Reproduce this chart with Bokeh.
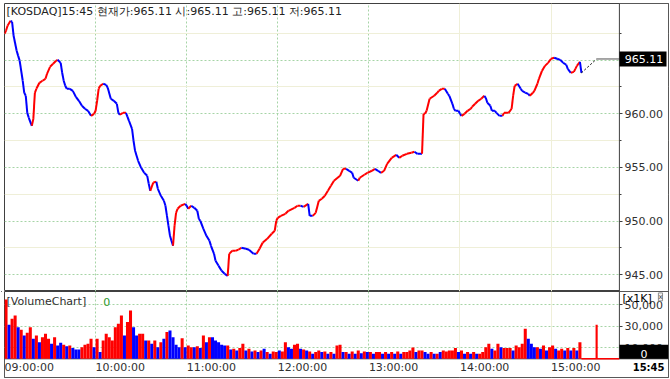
import numpy as np
from bokeh.plotting import figure
from bokeh.layouts import column
from bokeh.models import (Range1d, FixedTicker, NumeralTickFormatter, Label, Grid,
                          ColumnDataSource, BoxAnnotation)
from bokeh.embed import file_html
from bokeh.resources import INLINE

# ---------------- data ----------------
# minutes after 09:00 and KOSDAQ index value
price_min = [0, 1, 2, 4, 5, 6, 8, 9, 10, 12,
             13, 14, 15, 16, 18, 19, 20, 21, 23, 25,
             27, 28, 30, 32, 34, 35, 37, 38, 39, 40,
             41, 43, 45, 47, 49, 51, 53, 55, 57, 59,
             60, 61, 62, 63, 65, 67, 68, 70, 72, 74,
             75, 76, 78, 80, 81, 82, 84, 85, 86, 88,
             90, 92, 94, 95, 96, 98, 100, 101, 103, 105,
             106, 107, 108, 109, 110, 111, 112, 113, 114, 116,
             119, 120, 121, 123, 125, 127, 128, 129, 131, 133,
             135, 136, 138, 139, 141, 143, 145, 147, 148, 150,
             152, 154, 156, 159, 161, 164, 166, 168, 170, 173,
             176, 178, 179, 180, 182, 185, 187, 191, 193, 195,
             197, 200, 201, 203, 205, 207, 209, 211, 213, 215,
             217, 221, 223, 225, 227, 229, 230, 233, 234, 237,
             239, 242, 244, 246, 248, 250, 252, 255, 258, 260,
             262, 265, 268, 270, 272, 275, 276, 277, 278, 280,
             283, 285, 286, 288, 290, 292, 293, 295, 296, 297,
             299, 300, 301, 303, 305, 307, 308, 310, 312, 314,
             316, 317, 318, 320, 321, 323, 324, 326, 328, 329,
             332, 334, 335, 336, 338, 340, 341, 343, 345, 346,
             348, 349, 351, 352, 354, 356, 358, 360, 362, 364,
             366, 368, 370, 371, 373, 375, 376, 377, 379, 380]
price_val = [967.46, 967.74, 968.20, 968.67, 968.57, 967.27, 965.87, 965.40, 964.94, 963.08,
             961.96, 961.68, 960.09, 959.63, 958.88, 959.53, 961.96, 962.33, 962.89, 963.08,
             963.26, 963.73, 964.38, 964.66, 964.94, 965.03, 964.75, 963.82, 963.08, 962.61,
             962.33, 962.33, 962.14, 961.58, 961.21, 960.75, 960.47, 960.28, 959.81, 960.00,
             960.28, 961.21, 962.33, 962.61, 962.80, 962.70, 962.42, 961.40, 961.21, 960.93,
             960.09, 959.91, 960.09, 960.09, 959.72, 959.35, 958.60, 957.48, 956.55, 955.62,
             954.97, 954.50, 954.22, 953.48, 952.82, 953.60, 953.66, 953.01, 952.36, 951.89,
             951.43, 950.49, 949.56, 948.63, 948.16, 947.70, 949.56, 950.77, 951.15, 951.43,
             951.61, 951.43, 951.15, 951.43, 951.24, 950.96, 950.21, 950.03, 949.28, 948.63,
             948.16, 947.70, 946.95, 946.30, 945.83, 945.37, 945.09, 944.90, 946.95, 947.23,
             947.23, 947.33, 947.51, 947.42, 947.33, 946.95, 946.95, 947.42, 947.98, 948.35,
             948.82, 949.10, 950.03, 950.31, 950.49, 950.68, 950.96, 951.24, 951.43, 951.43,
             951.33, 951.61, 950.49, 950.49, 950.77, 951.89, 952.08, 952.36, 952.82, 953.29,
             953.76, 954.22, 954.87, 954.87, 954.69, 954.50, 954.04, 953.76, 954.04, 954.32,
             954.50, 954.69, 954.87, 954.69, 954.50, 954.69, 955.34, 955.90, 956.18, 955.90,
             956.09, 956.27, 956.37, 956.46, 956.27, 956.27, 960.00, 960.00, 960.28, 961.40,
             961.68, 961.96, 962.14, 962.33, 962.33, 961.86, 961.68, 960.93, 960.47, 960.28,
             960.28, 960.00, 959.81, 960.00, 960.28, 960.47, 960.65, 960.93, 961.21, 961.40,
             961.68, 961.49, 961.03, 960.75, 960.28, 960.28, 960.09, 959.81, 959.81, 960.09,
             960.09, 960.47, 961.68, 962.61, 962.80, 962.33, 962.14, 961.96, 961.86, 961.68,
             961.96, 962.14, 962.80, 963.26, 964.00, 964.47, 964.75, 965.13, 965.22, 965.13,
             965.03, 964.75, 964.57, 964.19, 963.82, 963.91, 964.19, 964.47, 964.85, 963.82]
auction_end_min = 390      # 15:30 closing auction
session_end_min = 405      # 15:45
last_price = 965.11
last_volume = 0

# volume in 2-minute slots from 09:00 (units x1K), 1 = up (red), 0 = down (blue)
vol_slot = 2
vol = [55000, 31500, 37000, 40100, 29300, 27000, 21600, 24000, 29300, 18500,
       21600, 15400, 20000, 23100, 18500, 13900, 20000, 12300, 14800, 13000,
       11700, 12300, 9900, 8600, 8600, 10800, 13000, 13900, 18500, 10800,
       18500, 6200, 17000, 23100, 20000, 17000, 29300, 32400, 40100, 21600,
       34000, 44700, 29300, 21600, 23100, 23100, 17000, 17000, 13900, 17000,
       10800, 15400, 18500, 24700, 26200, 20000, 13000, 10800, 19100, 10800,
       12300, 10800, 10800, 11700, 9900, 21600, 15400, 20000, 20000, 17000,
       15400, 13000, 12300, 12300, 8600, 9300, 7700, 9900, 13900, 7700,
       9300, 6800, 7700, 6200, 7700, 9300, 6200, 4600, 6800, 6200,
       7700, 6800, 15400, 10800, 9300, 13000, 13900, 9300, 8600, 7700,
       6800, 4600, 6200, 7700, 6200, 6800, 4600, 6200, 4600, 12300,
       13000, 6200, 6200, 4600, 6800, 4600, 7700, 5200, 6800, 6200,
       6200, 4600, 6200, 6200, 4600, 6200, 4600, 6200, 4600, 6800,
       4600, 6200, 6200, 7700, 10500, 6200, 7700, 7700, 6200, 4600,
       6200, 4600, 4600, 6200, 7700, 6800, 7700, 7700, 9900, 6200,
       7700, 4600, 6200, 4600, 6200, 4600, 4600, 6200, 10800, 13900,
       9300, 7700, 13900, 10800, 9900, 9900, 9900, 7700, 12300, 10800,
       13900, 27800, 18500, 13900, 10800, 10800, 9300, 12300, 7700, 10800,
       12300, 9300, 7700, 9300, 7700, 9900, 7700, 9900, 7700, 15400]
vol_up = [1, 0, 1, 1, 0, 1, 0, 1, 1, 0,
          1, 0, 1, 1, 1, 0, 1, 0, 0, 1,
          0, 1, 0, 0, 0, 1, 1, 1, 1, 0,
          1, 0, 1, 1, 1, 1, 1, 1, 1, 0,
          1, 1, 0, 0, 1, 1, 0, 1, 0, 1,
          0, 1, 0, 1, 0, 0, 0, 0, 1, 0,
          1, 1, 0, 1, 0, 1, 0, 1, 0, 0,
          0, 0, 0, 1, 0, 1, 0, 1, 1, 0,
          1, 0, 1, 0, 1, 0, 1, 0, 1, 1,
          0, 1, 1, 0, 0, 1, 1, 0, 1, 0,
          1, 0, 1, 1, 0, 1, 0, 1, 0, 1,
          1, 0, 1, 0, 1, 0, 1, 0, 1, 0,
          1, 0, 1, 1, 0, 1, 0, 1, 0, 1,
          0, 1, 1, 1, 1, 0, 1, 1, 0, 0,
          1, 0, 1, 0, 1, 1, 1, 1, 1, 0,
          1, 0, 1, 0, 1, 0, 1, 1, 1, 1,
          0, 1, 1, 0, 1, 1, 1, 0, 1, 1,
          1, 1, 0, 0, 0, 1, 0, 1, 0, 1,
          1, 0, 1, 1, 0, 1, 0, 1, 0, 1]
close_auction_vol = 31500   # at 15:30
after_min = [380, 405]       # no trades after 15:20 except the auction
after_vol = [0, 0]

hour_ticks = [0, 60, 120, 180, 240, 300, 360]
hour_labels = ["09:00:00", "10:00:00", "11:00:00", "12:00:00", "13:00:00", "14:00:00", "15:00:00"]
price_ticks = [945, 950, 955, 960, 965]
price_minor = [947.5, 952.5, 957.5, 962.5, 967.5]
vol_ticks = [10000, 30000, 50000]

title_text = "[KOSDAQ]15:45 현재가:%.2f 시:%.2f 고:%.2f 저:%.2f" % (last_price, last_price, last_price, last_price)

# ---------------- style / layout ----------------
RED = "#ff0000"
BLUE = "#0000ff"
GRID = "#a6d4a6"
FAINT = "#efefd8"
FRAME = "#404040"
FONT = "DejaVu Sans"
FS = "11px"
W = 670
H1 = 291
H2 = 88
LB = 4                          # left border
RBORD = 2                       # right border
PLOT_W = 614.9                  # pixel width of the time area (09:00 .. 15:45)
px_per_min = PLOT_W / session_end_min
x_end = (W - LB - RBORD) / px_per_min     # frame also covers the right price panel
PRICE_PX = 10.733               # pixels per index point
VOL_TOP = 62300
VOL_PX = 67.3                   # pixel height of the volume area
V_FRAME = H2 - 2                # volume frame height (axis row included)
vol_bottom = -(V_FRAME - VOL_PX) * VOL_TOP / VOL_PX
LABEL_HALF_PX = 24.7            # half width of a "HH:00:00" label
label_shift = LABEL_HALF_PX / px_per_min
BOX_H_PX = 15                   # height of the black value boxes

x_range = Range1d(0, x_end)


def add_grids(p, yticks, yminor=None):
    p.grid.visible = False
    p.add_layout(Grid(dimension=0, ticker=FixedTicker(ticks=hour_ticks[1:5], minor_ticks=[]),
                      grid_line_color=GRID, grid_line_dash="2 2"))
    p.add_layout(Grid(dimension=0, ticker=FixedTicker(ticks=hour_ticks[5:], minor_ticks=[]),
                      grid_line_color=FAINT))
    g = Grid(dimension=1, ticker=FixedTicker(ticks=yticks, minor_ticks=yminor or []),
             grid_line_color=GRID, grid_line_dash="2 2")
    if yminor:
        g.minor_grid_line_color = FAINT
    p.add_layout(g)


def style_right_axis(ax, ticks, minor, fmt):
    ax.fixed_location = session_end_min
    ax.ticker = FixedTicker(ticks=ticks, minor_ticks=minor)
    ax.formatter = NumeralTickFormatter(format=fmt)
    ax.axis_line_color = None
    ax.major_tick_in = 0
    ax.major_tick_out = 3
    ax.minor_tick_in = 0
    ax.minor_tick_out = 2
    ax.major_tick_line_color = FRAME
    ax.minor_tick_line_color = FRAME
    ax.major_label_standoff = 2
    ax.major_label_text_font = FONT
    ax.major_label_text_font_size = FS
    ax.major_label_text_color = "#303030"


# ---------------- price panel ----------------
p1 = figure(width=W, height=H1, x_range=x_range, y_range=Range1d(943.44, 970.28),
            output_backend="svg", toolbar_location=None,
            x_axis_location=None, y_axis_location="right",
            min_border_left=LB, min_border_right=RBORD, min_border_top=3, min_border_bottom=0)
p1.outline_line_color = FRAME
p1.background_fill_color = "white"
p1.border_fill_color = "white"
add_grids(p1, price_ticks, price_minor)
p1.add_layout(BoxAnnotation(left=session_end_min, fill_color="white", fill_alpha=1,
                            line_color=FRAME, line_alpha=1, level="underlay"))
style_right_axis(p1.yaxis[0], price_ticks, price_minor, "0.00")

x0 = price_min[:-1]
x1 = price_min[1:]
y0 = price_val[:-1]
y1 = price_val[1:]
seg_col = []
last = RED
for a, b in zip(y0, y1):
    if b > a:
        last = RED
    elif b < a:
        last = BLUE
    seg_col.append(last)
p1.segment(x0="x0", y0="y0", x1="x1", y1="y1", line_color="c", line_width=2,
           source=ColumnDataSource(dict(x0=x0, y0=y0, x1=x1, y1=y1, c=seg_col)))
p1.line([price_min[-1], auction_end_min], [price_val[-1], last_price],
        line_color="black", line_dash="2 2", line_width=1)
p1.line([auction_end_min, session_end_min], [last_price, last_price],
        line_color="#505050", line_width=1)

p1.add_layout(Label(x=0, y=969.5, x_offset=2, text=title_text, text_font=FONT,
                    text_font_size=FS, text_color="#222222", text_baseline="middle"))
# current-price box on the right axis
half_box = BOX_H_PX / 2 / PRICE_PX
p1.add_layout(BoxAnnotation(left=session_end_min, right=x_end - 2 / px_per_min,
                            bottom=last_price - half_box, top=last_price + half_box,
                            fill_color="black", fill_alpha=1, line_color=None))
p1.add_layout(Label(x=(session_end_min + x_end) / 2, y=last_price, text="%.2f" % last_price,
                    text_font=FONT, text_font_size=FS, text_color="white",
                    text_baseline="middle", text_align="center"))

# ---------------- volume panel ----------------
p2 = figure(width=W, height=H2, x_range=x_range, y_range=Range1d(vol_bottom, VOL_TOP),
            output_backend="svg", toolbar_location=None,
            x_axis_location="below", y_axis_location="right",
            min_border_left=LB, min_border_right=RBORD, min_border_top=0, min_border_bottom=2)
p2.outline_line_color = FRAME
p2.background_fill_color = "white"
p2.border_fill_color = "white"
add_grids(p2, vol_ticks)
p2.add_layout(BoxAnnotation(left=session_end_min, bottom=0, fill_color="white", fill_alpha=1,
                            line_color=FRAME, line_alpha=1, level="underlay"))
p2.add_layout(BoxAnnotation(top=0, fill_color="white", fill_alpha=1,
                            line_color=FRAME, line_alpha=1, level="underlay"))
style_right_axis(p2.yaxis[0], vol_ticks, [], "0,0")

vx = [vol_slot * k + vol_slot / 2 for k in range(len(vol))]
vc = [RED if u else BLUE for u in vol_up]
p2.vbar(x="x", top="top", width=vol_slot, fill_color="c", line_color=None,
        source=ColumnDataSource(dict(x=vx, top=vol, c=vc)))
p2.vbar(x=[auction_end_min], top=[close_auction_vol], width=1.4, fill_color=RED, line_color=None)
p2.line(after_min, after_vol, line_color=RED, line_width=1.5)

# time axis: labels start at their hour (centred labels shifted by half a label width)
ax = p2.xaxis[0]
ax.fixed_location = 0
label_pos = [t + label_shift for t in hour_ticks]
ax.ticker = FixedTicker(ticks=label_pos, minor_ticks=[])
ax.major_label_overrides = {t: l for t, l in zip(label_pos, hour_labels)}
ax.axis_line_color = None
ax.major_tick_in = 0
ax.major_tick_out = 0
ax.major_tick_line_color = None
ax.major_label_standoff = 2
ax.major_label_text_font = FONT
ax.major_label_text_font_size = FS
ax.major_label_text_color = "#303030"

p2.add_layout(Label(x=0, y=53000, x_offset=2, text="[VolumeChart]", text_font=FONT,
                    text_font_size=FS, text_color="#303030", text_baseline="middle"))
p2.add_layout(Label(x=65, y=53000, text="0", text_font=FONT,
                    text_font_size=FS, text_color="#2e9a2e", text_baseline="middle"))
# current-volume box on the right axis
p2.add_layout(BoxAnnotation(left=session_end_min, right=x_end, bottom=0,
                            top=(BOX_H_PX - 1) * VOL_TOP / VOL_PX,
                            fill_color="black", fill_alpha=1, line_color=None))
p2.add_layout(Label(x=(session_end_min + x_end) / 2, y=0, y_offset=1, text="%d" % last_volume,
                    text_font=FONT, text_font_size=FS, text_color="white",
                    text_baseline="bottom", text_align="center"))
p2.add_layout(Label(x=session_end_min, y=55800, x_offset=3, text="[x1K]", text_font=FONT,
                    text_font_size=FS, text_color="black", text_baseline="middle"))
p2.add_layout(Label(x=session_end_min, y=57300, x_offset=39, text="x", text_font=FONT,
                    text_font_size="7px", text_color="#404040", text_baseline="middle",
                    background_fill_color="#f4f4f4", border_line_color="#909090"))
p2.add_layout(Label(x=x_end, y=0, x_offset=-4, y_offset=-9, text="15:45",
                    text_font=FONT, text_font_size="10px", text_font_style="bold",
                    text_color="black", text_baseline="middle", text_align="right"))

layout = column(p1, p2, spacing=0,
                styles={"outline": "1px solid #404040", "outline-offset": "-2px"})

open("out.html", "w").write(file_html(layout, INLINE))
